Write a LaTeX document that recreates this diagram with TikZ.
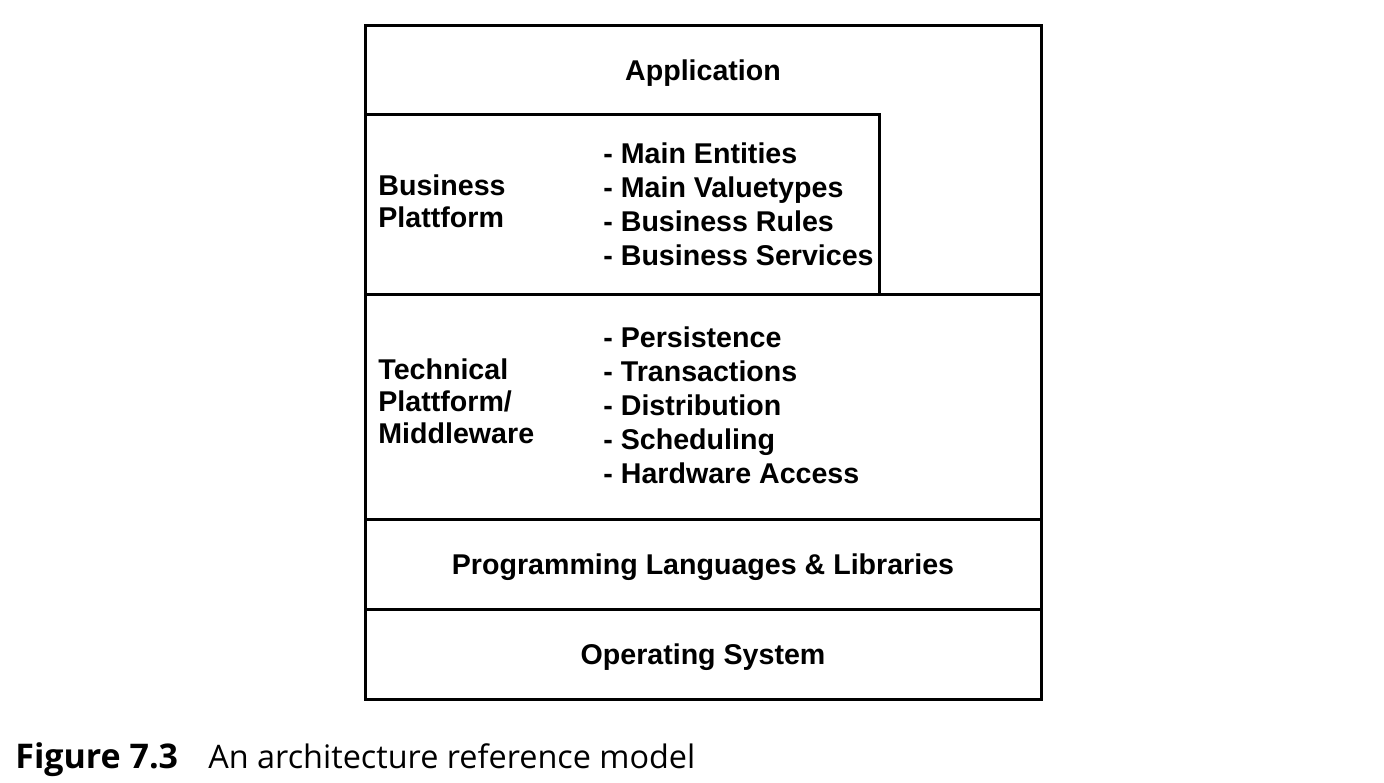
\documentclass[tikz,border=0pt]{standalone}
\usepackage{fontspec}
\setmainfont{Liberation Sans}
\newfontfamily\capfont{Open Sans}
\begin{document}
\begin{tikzpicture}[x=0.5pt,y=-0.5pt,
    layer/.style={font=\bfseries\fontsize{14.3}{17}\selectfont,inner sep=0pt},
    list/.style={layer,align=left,anchor=west},
    side/.style={list,font=\bfseries\fontsize{14.3}{16}\selectfont}]
  \useasboundingbox (0,0) rectangle (1384,782);
  % layers
  \draw[line width=1.5pt] (365,25) rectangle (1041,699);
  \draw[line width=1.5pt] (365,114) -- (879,114) -- (879,294);
  \draw[line width=1.5pt] (365,294) -- (1041,294);
  \draw[line width=1.5pt] (365,519) -- (1041,519);
  \draw[line width=1.5pt] (365,609) -- (1041,609);
  % labels
  \node[layer] (app) at (703,73) {Application};
  \node[side] (bus) at (378,201) {Business\\Plattform};
  \node[list] (buslist) at (603,204) {- Main Entities\\- Main Valuetypes\\- Business Rules\\- Business Services};
  \node[side] (tech) at (378,401) {Technical\\Plattform/\\Middleware};
  \node[list] (techlist) at (603,405) {- Persistence\\- Transactions\\- Distribution\\- Scheduling\\- Hardware Access};
  \node[layer] (lang) at (703,567) {Programming Languages \& Libraries};
  \node[layer] (os) at (703,657) {Operating System};
  % caption
  \node[anchor=base west,inner sep=0pt,font=\capfont\bfseries\fontsize{17}{20}\selectfont] (fig) at (15,768) {Figure 7.3};
  \node[anchor=base west,inner sep=0pt,font=\capfont\fontsize{16.2}{20}\selectfont] (cap) at (208,768) {An architecture reference model};
\end{tikzpicture}
\end{document}
